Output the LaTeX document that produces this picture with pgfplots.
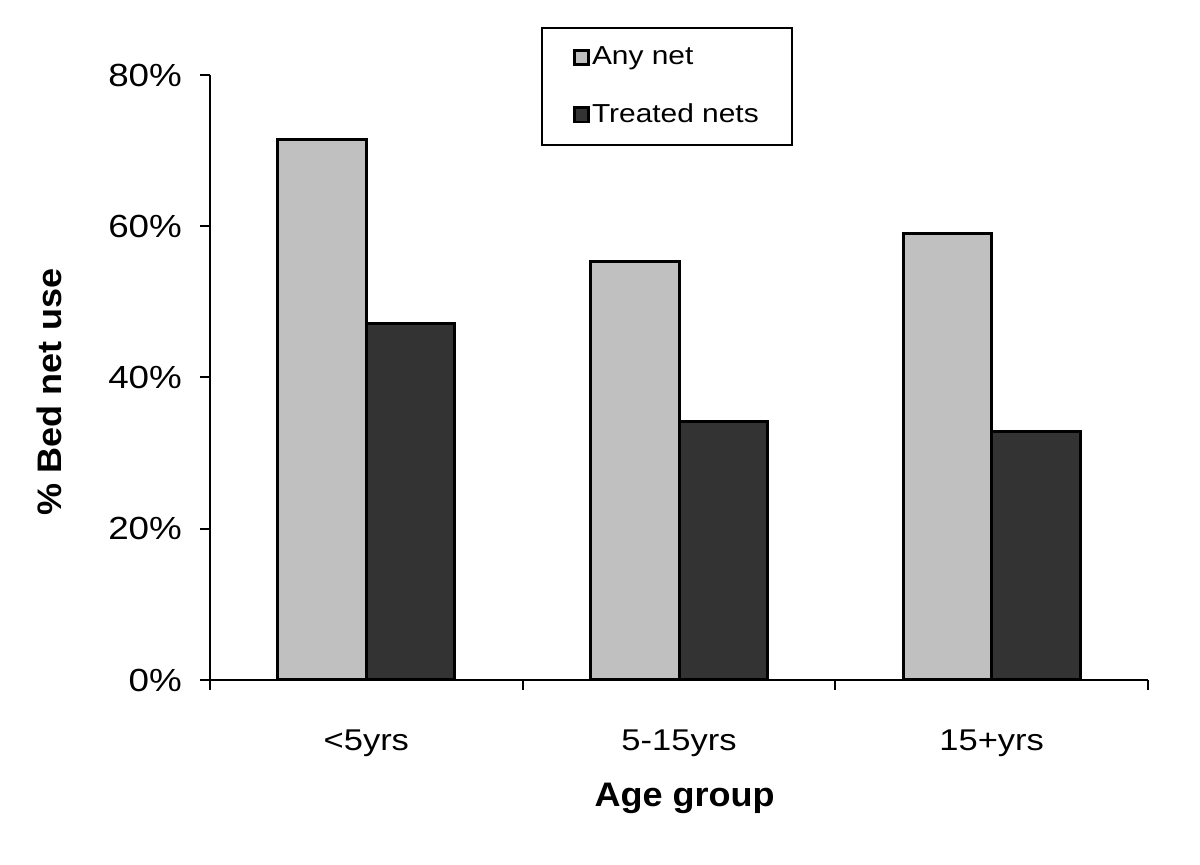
\documentclass[border=0pt]{standalone}
\usepackage{fontspec}
\setmainfont{Liberation Sans}[FakeStretch=1.15]
\newfontfamily\labfont{Liberation Sans}[FakeStretch=1.06]
\usepackage{pgfplots}
\pgfplotsset{compat=1.18}
\definecolor{anynet}{HTML}{C0C0C0}
\definecolor{treated}{HTML}{333333}
\begin{document}
\begin{tikzpicture}[x=1pt,y=1pt]
\path[use as bounding box] (0,0) rectangle (600,432.5);
\begin{axis}[
  at={(105pt,92.5pt)}, anchor=south west,
  scale only axis, width=469pt, height=302.5pt,
  ybar=0pt, bar width=44.25pt,
  xmin=-0.5, xmax=2.5, ymin=0, ymax=80,
  axis x line=bottom, axis y line=left,
  axis line style={line width=1pt, -},
  xtick={0,1,2}, xticklabels={<5yrs,5-15yrs,15+yrs},
  major x tick style={draw=none},
  minor xtick={-0.5,0.5,1.5,2.5},
  minor x tick style={line width=1pt, black},
  ytick={0,20,40,60,80}, yticklabels={0\%,20\%,40\%,60\%,80\%},
  y tick style={line width=1pt, black},
  tick align=outside, major tick length=5pt, minor tick length=5pt,
  /pgf/number format/assume math mode=true,
  yticklabel style={font=\fontsize{16}{19}\selectfont, xshift=-5.5pt},
  xticklabel style={font=\fontsize{15}{18}\selectfont, yshift=-16.5pt},
  xlabel={\labfont\bfseries Age group},
  ylabel={\labfont\bfseries \% Bed net use},
  xlabel style={font=\fontsize{17}{20}\selectfont, at={(axis description cs:0.506,0)}, anchor=base, yshift=-63.5pt},
  ylabel style={font=\fontsize{17}{20}\selectfont, at={(axis description cs:-0.1578,0.476)}, anchor=base},
  legend style={
    at={(axis description cs:0.3529,1.0793)}, anchor=north west,
    draw=black, line width=1pt,
    font=\fontsize{13}{15.5}\selectfont,
    inner xsep=15.5pt, inner ysep=9.5pt,
    row sep=18pt,
    nodes={inner xsep=1pt, inner ysep=0pt, anchor=west},
  },
  legend cell align=left,
  clip=false,
]
\addplot[fill=anynet, draw=black, line width=1.5pt,
  legend image code/.code={\draw[fill=anynet, draw=black, line width=1.3pt] (0pt,-3.6pt) rectangle (7.2pt,3.6pt);}]
  coordinates {(0,71.5) (1,55.4) (2,59.0)};
\addplot[fill=treated, draw=black, line width=1.5pt,
  legend image code/.code={\draw[fill=treated, draw=black, line width=1.3pt] (0pt,-3.6pt) rectangle (7.2pt,3.6pt);}]
  coordinates {(0,47.2) (1,34.2) (2,32.9)};
\legend{Any net, Treated nets}
\end{axis}
\end{tikzpicture}
\end{document}
